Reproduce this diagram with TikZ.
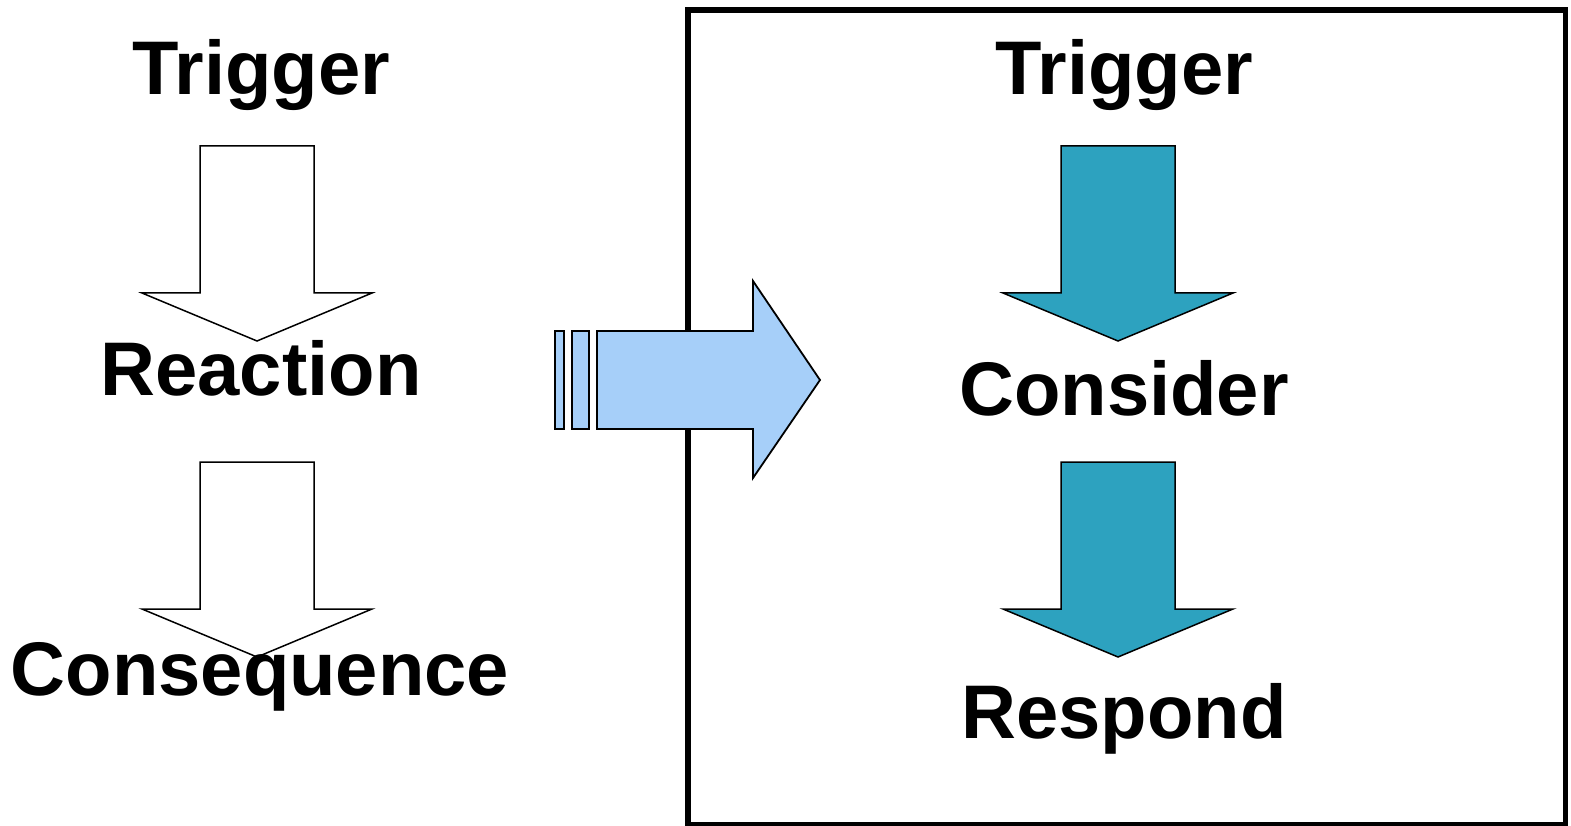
\documentclass[tikz,border=0pt]{standalone}
\usepackage{fontspec}
\setmainfont{Liberation Sans}
\definecolor{teal2}{HTML}{2DA2BF}
\definecolor{lblue}{HTML}{A6CFF9}
\tikzset{
  lbl/.style={anchor=base, inner sep=0pt, font=\fontsize{76}{80}\selectfont\bfseries},
  hollow/.style={draw=black, line width=1.5pt, fill=white, line join=miter},
  solid/.style={draw=black, line width=1.5pt, fill=teal2, line join=miter},
  bigarrow/.style={draw=black, line width=1.8pt, fill=lblue, line join=miter},
}
\newcommand{\downarrowshape}[4]{% style, center x, top y, head y
  \draw[#1] ({#2-57},#3) -- ({#2+57},#3) -- ({#2+57},#4) -- ({#2+115},#4)
    -- (#2,{#4+48}) -- ({#2-115},#4) -- ({#2-57},#4) -- cycle;}
\begin{document}
\begin{tikzpicture}[x=1pt,y=-1pt]
\useasboundingbox (0,0) rectangle (1571,826);
\fill[white] (0,0) rectangle (1571,826);
% frame
\draw[line width=5.5pt] (688,10) rectangle (1565.5,825);
% left column
\downarrowshape{hollow}{257}{146}{293}
\downarrowshape{hollow}{257}{462}{609}
\node[lbl] (t1) at (261,95) {Trigger};
\node[lbl] (r1) at (261,395) {Reaction};
\node[lbl] (c1) at (260,695) {Consequence};
% right column
\downarrowshape{solid}{1118}{146}{293}
\downarrowshape{solid}{1118}{462}{609}
\node[lbl] (t2) at (1124,95) {Trigger};
\node[lbl] (c2) at (1124,415) {Consider};
\node[lbl] (r2) at (1124,738) {Respond};
% big arrow
\draw[bigarrow] (555,331) rectangle (564,429);
\draw[bigarrow] (572,331) rectangle (589,429);
\draw[bigarrow] (597,331) -- (753,331) -- (753,281) -- (820,380) -- (753,478) -- (753,429) -- (597,429) -- cycle;
\end{tikzpicture}
\end{document}
